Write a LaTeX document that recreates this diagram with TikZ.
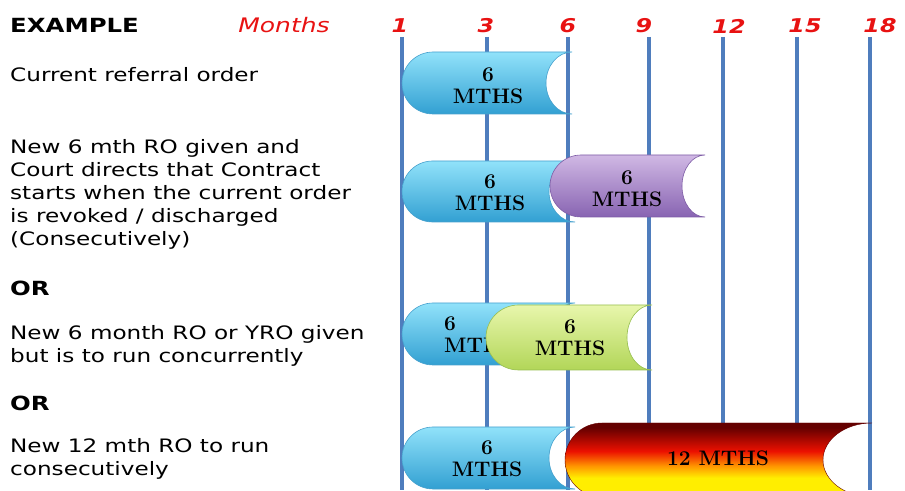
\documentclass[tikz,border=0pt]{standalone}
\usepackage{fontspec}
\usepackage{tikz}
\newfontfamily\lefttxt{DejaVu Sans}[FakeStretch=1.25]
\definecolor{gridblue}{RGB}{79,125,189}
\definecolor{mred}{RGB}{232,18,18}
\definecolor{bluetop}{RGB}{145,226,250}
\definecolor{bluebot}{RGB}{50,160,210}
\definecolor{blueedge}{RGB}{70,160,205}
\definecolor{purptop}{RGB}{208,184,228}
\definecolor{purpbot}{RGB}{136,100,178}
\definecolor{purpedge}{RGB}{125,92,165}
\definecolor{greentop}{RGB}{232,246,172}
\definecolor{greenbot}{RGB}{178,214,88}
\definecolor{greenedge}{RGB}{150,190,80}
\definecolor{firetop}{RGB}{100,0,0}
\definecolor{firemid}{RGB}{236,16,0}
\definecolor{fireorange}{RGB}{255,150,0}
\definecolor{firebot}{RGB}{255,238,0}
\pgfdeclareverticalshading{fireshade}{100bp}{color(0bp)=(firebot); color(25bp)=(firebot);
  color(38bp)=(firebot); color(46bp)=(fireorange); color(56bp)=(firemid);
  color(72bp)=(firetop); color(100bp)=(firetop)}
% #1 left, #2 right, #3 bottom, #4 top, #5 depth of the hollow end, #6 style
\newcommand{\mthpill}[6]{%
  \pgfmathsetmacro{\pillr}{(#4-#3)/2}%
  \shadedraw[#6] (#2,#4) -- ({#1+\pillr},#4)
    arc[start angle=90,end angle=270,radius=\pillr]
    -- (#2,#3)
    arc[start angle=270,end angle=90,x radius=#5,y radius=\pillr]
    -- cycle;%
}

\begin{document}
\begin{tikzpicture}[x=1pt,y=1pt,
  vline/.style={draw=gridblue,line width=3.4pt},
  monthno/.style={text=mred,inner sep=0,font=\lefttxt\fontsize{19}{22}\selectfont\bfseries\itshape},
  leftlbl/.style={anchor=west,inner sep=0,align=left,font=\lefttxt\fontsize{18.5}{23}\selectfont},
  orlbl/.style={anchor=west,inner sep=0,font=\lefttxt\fontsize{19.5}{23}\selectfont\bfseries},
  pilltxt/.style={inner sep=0,align=center,font=\fontsize{21}{22}\selectfont\bfseries},
  bluepill/.style={draw=blueedge,line width=0.6pt,top color=bluetop,bottom color=bluebot},
  purppill/.style={draw=purpedge,line width=0.6pt,top color=purptop,bottom color=purpbot},
  greenpill/.style={draw=greenedge,line width=0.6pt,top color=greentop,bottom color=greenbot},
  firepill/.style={draw=firetop,line width=0.4pt,shading=fireshade}]
  \useasboundingbox (0,0) rectangle (905,490);
  \clip (0,0) rectangle (905,490);

  \node[orlbl] (ex) at (10,465) {EXAMPLE};
  \node[text=mred,inner sep=0,font=\lefttxt\fontsize{20}{23}\selectfont\itshape] (months) at (284,465) {Months};

  \node[monthno] (m1) at (400,464) {1};
  \node[monthno] (m3) at (486,464) {3};
  \node[monthno] (m6) at (568,464) {6};
  \node[monthno] (m9) at (644,464) {9};
  \node[monthno] (m12) at (729,464) {12};
  \node[monthno] (m15) at (805,464) {15};
  \node[monthno] (m18) at (880,464) {18};

  \draw[vline] (402,453) -- (402,0);
  \draw[vline] (487,453) -- (487,0);
  \draw[vline] (568,453) -- (568,0);
  \draw[vline] (649,453) -- (649,0);
  \draw[vline] (723,453) -- (723,0);
  \draw[vline] (797,453) -- (797,0);
  \draw[vline] (870,453) -- (870,0);

  \node[leftlbl] (cur) at (10,415) {Current referral order};
  \node[leftlbl] (consec) at (10,296) {New 6 mth RO given and\\Court directs that Contract\\starts when the current order\\is revoked / discharged\\(Consecutively)};
  \node[orlbl] (or1) at (10,202) {OR};
  \node[leftlbl] (concur) at (10,144) {New 6 month RO or YRO given\\but is to run concurrently};
  \node[orlbl] (or2) at (10,87) {OR};
  \node[leftlbl] (twelve) at (10,31) {New 12 mth RO to run\\consecutively};

  % current order
  \mthpill{402}{572}{376}{438}{26}{bluepill}
  \node[pilltxt] (cur6) at (488,404) {6\\MTHS};

  % consecutive
  \mthpill{402}{575}{268}{329}{26}{bluepill}
  \node[pilltxt] (consec6) at (490,297) {6\\MTHS};
  \mthpill{550}{705}{273}{335}{23}{purppill}
  \node[pilltxt] (consecnew) at (627,301) {6\\MTHS};

  % concurrent
  \mthpill{402}{575}{125}{187}{26}{bluepill}
  \node[pilltxt,anchor=west,align=left] (concur6) at (444,155) {6\\MTHS};
  \mthpill{486}{652}{120}{185}{25}{greenpill}
  \node[pilltxt] (concurnew) at (570,152) {6\\MTHS};

  % twelve months
  \mthpill{402}{575}{1}{63}{26}{bluepill}
  \node[pilltxt] (twelve6) at (487,31) {6\\MTHS};
  \mthpill{565}{872}{-7}{67}{49}{firepill}
  \node[pilltxt,font=\fontsize{21}{22}\selectfont\bfseries] (twelvenew) at (718,32) {12 MTHS};

\end{tikzpicture}
\end{document}
